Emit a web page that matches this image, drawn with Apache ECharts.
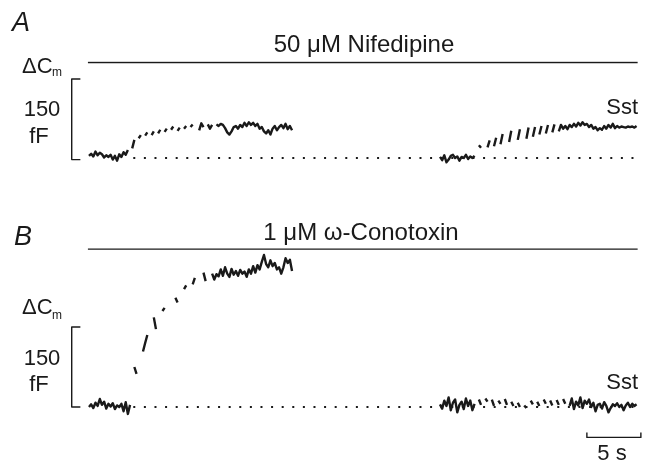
<!DOCTYPE html>
<html>
<head>
<meta charset="utf-8">
<script src="https://cdn.jsdelivr.net/npm/echarts@6/dist/echarts.min.js"></script>
<style>
html, body { margin: 0; padding: 0; background: #fff; }
#chart { width: 647px; height: 462px; }
</style>
</head>
<body>
<div id="chart"></div>
<script>
// sampling step of the traces (s)
var dt = 0.2;
var a1Start = 0, a2Start = 32.5, b1Start = 0, b2Start = 32.5;

// Delta Cm (fF), null = gap in the trace
var a1Values = [4, 8, 3, 12, 5, 10, 7, 1, 5, 2, 6, -3, 4, -5, 7, 2, 11, 6, 15,
	null, 18, 34, null, 37, 43, null, 42, 48, null, 43, 50, null, 46, 53, null, 49, 55, null, 53, 59, null, 51, 57, null, 55, 60, null, 58, 63, null, null, 52, 65, 58, null, 63, 55, 62, null,
	63, 60, 64, 62, 56, 48, 44, 50, 58, 60, 55, 62, 58, 66, 60, 67, 62, 66, 60, 64, 55, 58, 50, 46, 52, 44, 55, 60, 52, 58, 62, 56, 64, 54, 60, 52];
var a2Values = [2, -4, 5, -8, -3, 4, 6, 0, 3, -5, 2, 0, 6, -2, 3, 0, 4,
	null, 24, 19, null, null, 20, 33, null, 22, 38, null, 26, 45, null, null, 30, 51, null, null, 34, 54, null, null, 36, 57, null, 40, 58, null, 44, 60, null, 46, 62, null, 48, 63, null, 50, 62,
	55, 60, 54, 62, 58, 64, 59, 66, 61, 67, 62, 64, 58, 62, 55, 58, 52, 56, 53, 60, 55, 62, 57, 64, 56, 60, 57, 59, 58, 57, 59, 58, 59, 57, 60];
var b1Values = [0, 5, -2, 8, 2, 15, 4, 10, -3, 6, 1, 7, -4, 3, 0, 6, -8, 9, -13, 4,
	null, 75, 62, null, null, 104, 120, 135, null, null, 168, 146, null, null, 180, 186, null, null, null, null, 205, 196, null, null, 221, 228, null, null, 230, 242, null, null, null, 252, 236, null, null, 250, 239, 249,
	245, 258, 246, 262, 250, 244, 259, 248, 255, 246, 257, 250, 254, 244, 258, 250, 264, 252, 266, 258, 272, 285, 268, 262, 275, 264, 270, 258, 262, 250, 262, 279, 270, 276, 255];
var b2Values = [5, -3, 12, 2, 18, -6, 8, 14, -10, 4, 10, -4, 16, 2, 12, -6, 6,
	null, 14, 4, null, 16, 10, null, 14, 2, null, 12, 6, null, 15, 4, null, 10, 2, null, 8, 0, null, 3, -2, null, 12, 5, null, 10, 2, null, 14, 6, null, 12, 3, null, 13, 4, null, 15, 6, null,
	2, 16, -4, 10, 3, 18, -2, 12, 6, 14, 0, 8, -8, 4, 6, -3, 9, 2, -10, -2, 5, 2, 7, 0, 4, -6, 3, 8, 0, 6, 2, 5];

// drug application bars, baseline, scale bars
var drugSpan = [-0.1, 50.8];
var drugLevels = [179, 296];
var baselineSpan = [4.1, 50.8];
var fFBarA = [-3, 148];
var fFBarB = [0, 150];
var fFBarX = [-1.6, -0.8];
var timeBar = [46.1, 51.1];
var timeBarY = [-57, -48];

var ink = '#1a1a1a';
var font = "'Liberation Sans', Arial, Helvetica, sans-serif";

function trace(values, start) {
	var out = [];
	for (var i = 0; i < values.length; i++) {
		out.push([start + i * dt, values[i] === null ? '-' : values[i]]);
	}
	return out;
}

function lineSeries(data, idx, width, dash) {
	return {
		type: 'line',
		xAxisIndex: idx,
		yAxisIndex: idx,
		data: data,
		symbol: 'none',
		connectNulls: false,
		silent: true,
		lineStyle: { color: ink, width: width, type: dash || 'solid', cap: 'butt', join: 'round' }
	};
}

function bracket(bar) {
	return [[fFBarX[1], bar[1]], [fFBarX[0], bar[1]], [fFBarX[0], bar[0]], [fFBarX[1], bar[0]]];
}

function txt(text, x, y, size, align, style) {
	return {
		type: 'text', x: x, y: y, silent: true,
		style: {
			text: text, fill: ink, textAlign: align || 'left', textVerticalAlign: 'middle',
			font: (style || '') + ' ' + size + 'px ' + font
		}
	};
}

var chart = echarts.init(document.getElementById('chart'));

var option = {
	animation: false,
	backgroundColor: '#fff',
	grid: [
		{ left: 67.4, top: 62, width: 577.8, height: 106.67 },
		{ left: 67.4, top: 247, width: 577.8, height: 193.07 }
	],
	xAxis: [
		{ type: 'value', gridIndex: 0, min: -2, max: 51.5, show: false },
		{ type: 'value', gridIndex: 1, min: -2, max: 51.5, show: false }
	],
	yAxis: [
		{ type: 'value', gridIndex: 0, min: -20, max: 180, show: false },
		{ type: 'value', gridIndex: 1, min: -62, max: 300, show: false }
	],
	series: [
		lineSeries([[baselineSpan[0], 0], [baselineSpan[1], 0]], 0, 2, [2, 8.6]),
		lineSeries([[baselineSpan[0], 0], [baselineSpan[1], 0]], 1, 2, [2, 8.6]),
		lineSeries([[drugSpan[0], drugLevels[0]], [drugSpan[1], drugLevels[0]]], 0, 1.4),
		lineSeries([[drugSpan[0], drugLevels[1]], [drugSpan[1], drugLevels[1]]], 1, 1.4),
		lineSeries(bracket(fFBarA), 0, 1.4),
		lineSeries(bracket(fFBarB), 1, 1.4),
		lineSeries([[timeBar[0], timeBarY[1]], [timeBar[0], timeBarY[0]], [timeBar[1], timeBarY[0]], [timeBar[1], timeBarY[1]]], 1, 1.4),
		lineSeries(trace(a1Values, a1Start), 0, 2.4),
		lineSeries(trace(a2Values, a2Start), 0, 2.4),
		lineSeries(trace(b1Values, b1Start), 1, 2.4),
		lineSeries(trace(b2Values, b2Start), 1, 2.4)
	],
	graphic: [
		txt('A', 12, 23, 27, 'left', 'italic'),
		txt('B', 14, 237, 27, 'left', 'italic'),
		txt('50 μM Nifedipine', 364, 45, 24, 'center'),
		txt('1 μM ω-Conotoxin', 361, 233, 24, 'center'),
		txt('ΔC', 22, 67, 22),
		txt('m', 52, 73, 12),
		txt('ΔC', 22, 308, 22),
		txt('m', 52, 316, 12),
		txt('150', 42, 110, 22, 'center'),
		txt('fF', 39, 137, 22, 'center'),
		txt('150', 42, 359, 22, 'center'),
		txt('fF', 39, 385, 22, 'center'),
		txt('Sst', 638, 108, 22, 'right'),
		txt('Sst', 638, 383, 22, 'right'),
		txt('5 s', 612, 454, 22, 'center')
	]
};

chart.setOption(option);
</script>
</body>
</html>
